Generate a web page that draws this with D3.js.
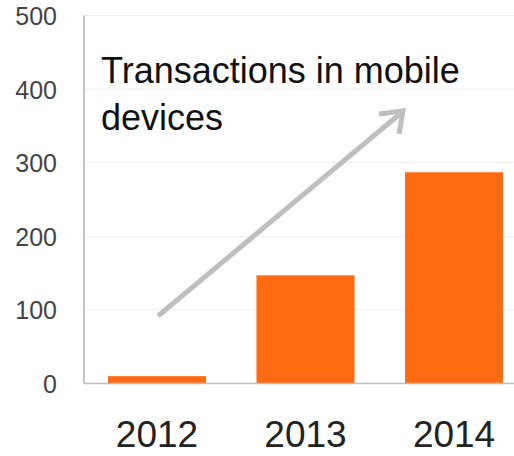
<!DOCTYPE html>
<html><head><meta charset="utf-8">
<script src="https://cdn.jsdelivr.net/npm/d3@7"></script>
<style>body{margin:0;background:#fff}</style>
</head><body>
<svg id="c" width="514" height="456"></svg>
<script>
const categories = ["2012","2013","2014"];
const values = [10, 147, 287];
const yTicks = [0,100,200,300,400,500];
const titleLines = ["Transactions in mobile","devices"];

const svg = d3.select("#c");
const y = d3.scaleLinear().domain([0,500]).range([383.5,15.5]);
const x = d3.scaleBand().domain(categories).range([102,509]).paddingInner(0.34).paddingOuter(0.04);
const axisX0 = 84, axisX1 = 514;

// gridlines
svg.append("g").selectAll("line").data(yTicks.filter(d=>d>0)).join("line")
  .attr("x1",axisX0).attr("x2",axisX1)
  .attr("y1",d=>y(d)).attr("y2",d=>y(d))
  .attr("stroke","#eeeeee").attr("stroke-width",1);

// y axis labels
const yAxis = d3.axisLeft(y).tickValues(yTicks).tickSize(0).tickPadding(0).tickFormat(d3.format("d"));
const gy = svg.append("g").attr("transform","translate(57,0)").call(yAxis);
gy.select(".domain").remove();
gy.selectAll("text").attr("font-family","Liberation Sans, Arial, sans-serif").attr("font-size",25).attr("fill","#444").attr("dy","0.36em");

// y axis line
svg.append("line").attr("x1",axisX0).attr("x2",axisX0).attr("y1",y(500)).attr("y2",y(0))
  .attr("stroke","#c4c4c4").attr("stroke-width",2);

// bars
svg.append("g").selectAll("rect").data(values).join("rect")
  .attr("x",(d,i)=>x(categories[i])).attr("width",x.bandwidth())
  .attr("y",d=>y(d)).attr("height",d=>y(0)-y(d))
  .attr("fill","#ff6b12");

// baseline
svg.append("line").attr("x1",axisX0).attr("x2",axisX1).attr("y1",y(0)).attr("y2",y(0))
  .attr("stroke","#bdbdbd").attr("stroke-width",1.5);

// x axis labels
const xAxis = d3.axisBottom(x).tickSize(0).tickPadding(0);
const gx = svg.append("g").attr("transform","translate(0,447)").call(xAxis);
gx.select(".domain").remove();
gx.selectAll("text").attr("dy",0).attr("font-family","Liberation Sans, Arial, sans-serif").attr("font-size",37).attr("fill","#222");

// arrow
const arrowColor = "#bfbfbf";
svg.append("line").attr("x1",158).attr("y1",316).attr("x2",401).attr("y2",113)
  .attr("stroke",arrowColor).attr("stroke-width",5);
svg.append("polyline").attr("points","379,114 403,111 399,134")
  .attr("fill","none").attr("stroke",arrowColor).attr("stroke-width",5).attr("stroke-linejoin","miter");

// title
const t = svg.append("text").attr("font-family","Liberation Sans, Arial, sans-serif").attr("font-size",36).attr("fill","#111");
titleLines.forEach((s,i)=>t.append("tspan").attr("x",101).attr("y",83+i*47).text(s));
</script>
</body></html>
